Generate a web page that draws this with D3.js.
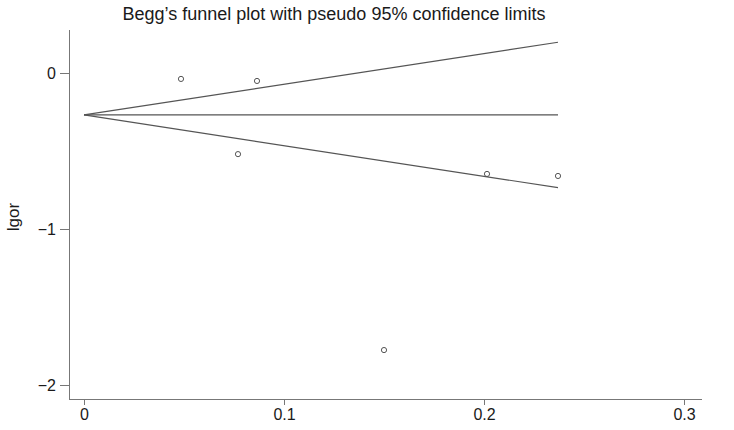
<!doctype html>
<html>
<head>
    <style>
        body { margin: 0; background: #fff; }
        text { font-family: "Liberation Sans", Arial, sans-serif; fill: #1a1a1a; }
    </style>
    <script src="https://d3js.org/d3.v7.min.js"></script>
</head>
<body>
<svg width="734" height="430"></svg>
<script>

    // study standard errors (x) and log odds ratios (y)
    var seValues = [0.0485, 0.0865, 0.077, 0.2015, 0.2370, 0.150];
    var lgorValues = [-0.038, -0.051, -0.520, -0.647, -0.660, -1.776];

    // pseudo 95% confidence limits, endpoints at se = 0 and se = max
    var limitSe = [0, 0.2370];
    var pooled = [-0.269, -0.269];
    var upperLimit = [-0.269, 0.197];
    var lowerLimit = [-0.269, -0.735];

    var xTicks = [0, 0.1, 0.2, 0.3];
    var yTicks = [0, -1, -2];

    var svg = d3.select("svg");

    var x = d3.scaleLinear().domain([0, 0.3]).range([84, 684]);
    var y = d3.scaleLinear().domain([0, -2]).range([73, 385]);

    svg.append("text")
       .attr("x", 334)
       .attr("y", 20)
       .attr("text-anchor", "middle")
       .attr("font-size", "18px")
       .text("Begg\u2019s funnel plot with pseudo 95% confidence limits");

    // axes
    var xAxis = svg.append("g")
        .attr("transform", "translate(0,399)")
        .call(d3.axisBottom(x).tickValues(xTicks).tickSize(6).tickPadding(4)
            .tickFormat(function(d) { return d === 0 ? "0" : d3.format(".1f")(d); }));
    xAxis.select(".domain").attr("d", "M69,0.5H702");

    var yAxis = svg.append("g")
        .attr("transform", "translate(69,0)")
        .call(d3.axisLeft(y).tickValues(yTicks).tickSize(9).tickPadding(4)
            .tickFormat(function(d) { return d === 0 ? "0" : "\u2212" + Math.abs(d); }));
    yAxis.select(".domain").attr("d", "M0.5,30V399");

    svg.selectAll(".domain, .tick line").attr("stroke", "#777");
    svg.selectAll(".tick text").attr("font-size", "16px").attr("fill", "#1a1a1a")
       .style("font-family", "Liberation Sans, Arial, sans-serif");

    svg.append("text")
       .attr("transform", "translate(19,217) rotate(-90)")
       .attr("text-anchor", "middle")
       .attr("font-size", "17px")
       .text("lgor");

    // funnel lines
    var line = d3.line()
        .x(function(d) { return x(d[0]); })
        .y(function(d) { return y(d[1]); });

    [pooled, upperLimit, lowerLimit].forEach(function(vals) {
        svg.append("path")
           .attr("d", line(d3.zip(limitSe, vals)))
           .attr("fill", "none")
           .attr("stroke", "#555")
           .attr("stroke-width", 1.2);
    });

    // studies
    svg.selectAll(".pt")
       .data(d3.zip(seValues, lgorValues))
       .enter().append("circle")
       .attr("class", "pt")
       .attr("cx", function(d) { return x(d[0]); })
       .attr("cy", function(d) { return y(d[1]); })
       .attr("r", 2.6)
       .attr("fill", "none")
       .attr("stroke", "#555")
       .attr("stroke-width", 1);

</script>
</body>
</html>
